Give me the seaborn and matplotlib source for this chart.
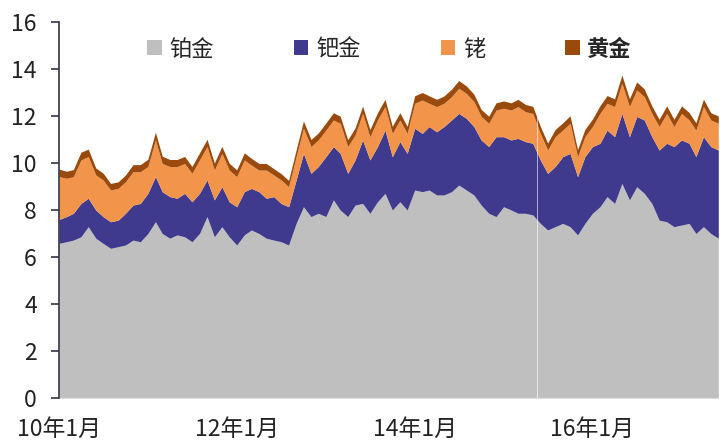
import numpy as np
import pandas as pd
import matplotlib
matplotlib.use("Agg")
import matplotlib.pyplot as plt
import matplotlib.dates as mdates
from matplotlib.patches import Patch
import seaborn as sns

# 月度数据（2010年1月起）
dates = pd.date_range("2010-01-01", periods=90, freq="MS")

platinum = [6.58, 6.65, 6.72, 6.86, 7.29, 6.80, 6.58, 6.37, 6.44, 6.51,
            6.72, 6.65, 7.00, 7.50, 7.00, 6.80, 6.94, 6.86, 6.65, 7.00,
            7.72, 6.86, 7.29, 6.86, 6.51, 6.94, 7.15, 7.00, 6.80, 6.72,
            6.65, 6.51, 7.43, 8.14, 7.72, 7.86, 7.72, 8.43, 8.00, 7.72,
            8.21, 8.28, 7.86, 8.35, 8.71, 8.00, 8.35, 8.00, 8.85, 8.78,
            8.85, 8.64, 8.64, 8.78, 9.06, 8.85, 8.64, 8.21, 7.86, 7.72,
            8.14, 8.00, 7.86, 7.86, 7.79, 7.43, 7.15, 7.29, 7.43, 7.29,
            6.94, 7.43, 7.86, 8.14, 8.57, 8.28, 9.13, 8.43, 8.99, 8.71,
            8.28, 7.57, 7.50, 7.29, 7.36, 7.43, 7.00, 7.29, 7.00, 6.80]

palladium = [1.02, 1.07, 1.14, 1.42, 1.21, 1.20, 1.14, 1.13, 1.13, 1.35,
             1.49, 1.63, 1.71, 1.92, 1.78, 1.77, 1.56, 1.85, 1.70, 1.71,
             1.56, 1.57, 1.70, 1.49, 1.63, 1.84, 1.77, 1.78, 1.70, 1.85,
             1.63, 1.63, 1.85, 2.27, 1.84, 1.99, 2.55, 2.27, 2.41, 1.84,
             1.92, 2.70, 2.27, 2.35, 2.69, 2.27, 2.56, 2.41, 2.63, 2.48,
             2.70, 2.69, 2.91, 3.05, 3.05, 3.05, 2.91, 2.77, 2.84, 3.40,
             2.98, 2.98, 3.19, 3.05, 3.05, 2.70, 2.41, 2.56, 2.84, 3.12,
             2.48, 2.84, 2.84, 2.70, 2.83, 2.84, 2.98, 2.69, 2.99, 3.12,
             2.84, 2.98, 3.34, 3.41, 3.62, 3.41, 3.27, 3.83, 3.70, 3.75]

rhodium = [1.82, 1.63, 1.56, 1.85, 1.77, 1.49, 1.56, 1.35, 1.35, 1.34,
           1.42, 1.35, 1.14, 1.56, 1.20, 1.28, 1.35, 1.27, 1.21, 1.42,
           1.42, 1.27, 1.42, 1.35, 1.28, 1.35, 0.99, 0.92, 1.20, 0.92,
           1.00, 0.85, 0.99, 1.07, 1.14, 1.13, 1.13, 1.13, 1.28, 1.14,
           1.06, 1.13, 0.99, 1.13, 1.00, 0.99, 0.92, 0.85, 1.06, 1.42,
           0.99, 1.07, 0.99, 0.99, 1.07, 1.06, 1.07, 1.00, 0.99, 1.13,
           1.21, 1.27, 1.35, 1.27, 1.27, 1.13, 0.99, 1.27, 1.13, 1.28,
           0.85, 0.85, 0.85, 1.27, 1.14, 1.28, 1.28, 1.28, 1.13, 0.99,
           0.99, 1.00, 1.27, 0.85, 1.13, 0.99, 1.13, 1.28, 1.13, 1.14]

gold = [0.32, 0.30, 0.30, 0.33, 0.32, 0.30, 0.29, 0.28, 0.28, 0.29,
        0.30, 0.30, 0.31, 0.33, 0.31, 0.30, 0.30, 0.30, 0.29, 0.30,
        0.31, 0.30, 0.30, 0.29, 0.29, 0.30, 0.29, 0.28, 0.28, 0.27,
        0.27, 0.27, 0.29, 0.31, 0.30, 0.30, 0.30, 0.31, 0.30, 0.29,
        0.30, 0.31, 0.30, 0.31, 0.31, 0.30, 0.31, 0.30, 0.32, 0.32,
        0.32, 0.31, 0.31, 0.32, 0.33, 0.32, 0.31, 0.30, 0.30, 0.31,
        0.31, 0.31, 0.31, 0.31, 0.30, 0.30, 0.30, 0.31, 0.31, 0.32,
        0.30, 0.31, 0.32, 0.33, 0.33, 0.33, 0.35, 0.33, 0.34, 0.33,
        0.32, 0.31, 0.32, 0.31, 0.32, 0.32, 0.31, 0.32, 0.31, 0.31]

labels = ["铂金", "钯金", "铑", "黄金"]
colors = ["#bfbfbf", "#403a8e", "#f2944a", "#9a4a0c"]
gap_date = "2015-05-20"

sns.set_theme(style="ticks")
plt.rcParams["font.family"] = ["Noto Sans CJK SC", "DejaVu Sans"]
plt.rcParams["font.weight"] = "light"

fig = plt.figure(figsize=(7.2, 4.42), dpi=100)
ax = fig.add_axes([59 / 720, 1 - 398 / 442, 1 - 59 / 720, (398 - 22) / 442])

ax.stackplot(dates, platinum, palladium, rhodium, gold,
             colors=colors, labels=labels, linewidth=0)
ax.axvline(pd.Timestamp(gap_date), color="white", lw=0.7, alpha=0.6)

ax.set_xlim(pd.Timestamp("2010-01-01"), pd.Timestamp("2017-06-08"))
ax.set_ylim(0, 16)
ax.set_yticks(np.arange(0, 17, 2))
ax.set_xticks(pd.to_datetime(["2010-01-01", "2012-01-01", "2014-01-01", "2016-01-01"]))
ax.xaxis.set_major_formatter(mdates.DateFormatter("%y年%-m月"))

sns.despine(ax=ax, top=True, right=True, bottom=True)
ax.spines["left"].set_color("#333344")
ax.spines["left"].set_linewidth(1.2)
ax.tick_params(axis="y", length=6, width=1.2, color="#333344", pad=10,
               labelsize=16.5, labelcolor="#222222")
ax.tick_params(axis="x", length=0, pad=14, labelsize=16.5, labelcolor="#222222")

handles = [Patch(facecolor=c, edgecolor="none") for c in colors]
leg = ax.legend(handles, labels, loc="upper center", bbox_to_anchor=(0.5, 1.0),
                ncol=4, frameon=False, fontsize=16, handlelength=0.65, handleheight=0.65,
                handletextpad=0.35, columnspacing=3.6, borderaxespad=0.3)
leg.get_texts()[3].set_fontweight("bold")

fig.savefig("out.png", dpi=100)
